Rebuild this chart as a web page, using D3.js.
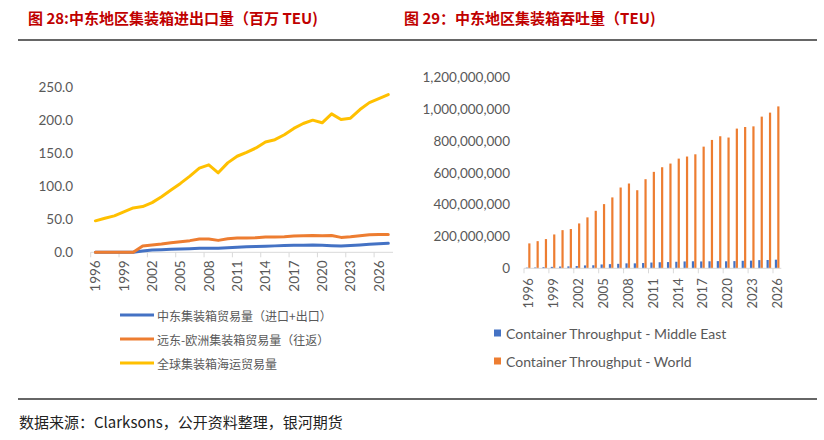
<!DOCTYPE html>
<html>
<head>
<meta charset="utf-8">
<script src="https://cdn.jsdelivr.net/npm/d3@7"></script>
<style>
body{margin:0;background:#fff;}
svg{display:block;font-family:Lato,"Noto Sans CJK SC",sans-serif;}
</style>
</head>
<body>
<svg id="chart" width="824" height="440"></svg>
<script>
"use strict";

var tradeYears = [1996,1997,1998,1999,2000,2001,2002,2003,2004,2005,2006,2007,2008,2009,2010,2011,
	2012,2013,2014,2015,2016,2017,2018,2019,2020,2021,2022,2023,2024,2025,2026,2027];
// million TEU
var meTrade = [0,0,0,0,0,2,3.5,4,4.5,5,5.5,6,6.3,6.3,7,7.7,8.2,8.7,9.2,9.7,10.2,10.6,10.8,11,10.6,10,9.5,10.3,11.2,12,12.8,13.5];
var feTrade = [0,0,0,0,0,9.5,11,12.5,14.5,16,17.6,20,20,18,20.5,21.5,21.5,22,23,23,23.5,24.5,25,25.5,25,25.5,22.5,23.5,25,26.5,27,27];
var globalTrade = [47.5,51.5,55,61,67,69,75,84,94,104,115,127,132,120,135,145,151,157.5,166.5,170,177.5,187,194.5,199.5,195.5,209,200.5,202.5,215.5,226,232,238];
var tradeTicks = [0,50,100,150,200,250];
var tradeNames = ["中东集装箱贸易量（进口+出口）","远东-欧洲集装箱贸易量（往返）","全球集装箱海运贸易量"];

var portYears = [1996,1997,1998,1999,2000,2001,2002,2003,2004,2005,2006,2007,2008,2009,2010,2011,
	2012,2013,2014,2015,2016,2017,2018,2019,2020,2021,2022,2023,2024,2025,2026];
// million TEU
var meThroughput = [4,5,7,9,11,12,14,18,19,24,26,28,31,31,33,36,38,39,41,43,44,43,44,45,44,45,47,48,51,52,54];
var worldThroughput = [156,170,183,212,239,246,281,319,360,402,444,506,531,489,558,604,633,656,687,700,714,762,804,827,819,875,885,889,950,975,1014];
var portTicks = [0,200,400,600,800,1000,1200];
var portNames = ["Container Throughput - Middle East","Container Throughput - World"];

var blue = "#4472c4", orange = "#ed7d31", gold = "#ffc000";
var grey = "#595959", axisGrey = "#d9d9d9";

var svg = d3.select("#chart");

// titles and rules
svg.append("text").attr("x", 28).attr("y", 17).attr("dominant-baseline", "central")
	.attr("fill", "#c00000").attr("font-size", 15).attr("font-weight", "bold")
	.attr("font-family", "'Noto Sans CJK SC',sans-serif")
	.text("图 28:中东地区集装箱进出口量（百万 TEU)");
svg.append("text").attr("x", 404).attr("y", 17).attr("dominant-baseline", "central")
	.attr("fill", "#c00000").attr("font-size", 15).attr("font-weight", "bold")
	.attr("font-family", "'Noto Sans CJK SC',sans-serif")
	.text("图 29：中东地区集装箱吞吐量（TEU)");
svg.append("line").attr("x1", 18).attr("x2", 817).attr("y1", 40).attr("y2", 40)
	.attr("stroke", "#333").attr("stroke-width", 1.3);
svg.append("line").attr("x1", 18).attr("x2", 817).attr("y1", 399).attr("y2", 399)
	.attr("stroke", "#333").attr("stroke-width", 1.3);
svg.append("text").attr("x", 19).attr("y", 421).attr("dominant-baseline", "central")
	.attr("fill", "#222").attr("font-size", 15)
	.attr("font-family", "'Noto Sans CJK SC',sans-serif")
	.text("数据来源：Clarksons，公开资料整理，银河期货");

// ---- left: trade lines ----
var x1 = d3.scaleBand().domain(tradeYears).range([90.7, 393]);
var y1 = d3.scaleLinear().domain([0, 250]).range([252.3, 86.7]);
var left = svg.append("g");

left.append("line").attr("x1", x1.range()[0]).attr("x2", x1.range()[1])
	.attr("y1", y1(0)).attr("y2", y1(0)).attr("stroke", axisGrey);

var xTicks1 = tradeYears.filter(function(d, i){ return i % 3 === 0; });
left.selectAll(".tk").data(xTicks1).enter().append("line")
	.attr("x1", function(d){ return x1(d); }).attr("x2", function(d){ return x1(d); })
	.attr("y1", y1(0)).attr("y2", y1(0) + 5).attr("stroke", axisGrey);
left.selectAll(".xl").data(xTicks1).enter().append("text")
	.attr("transform", function(d){
		return "translate(" + (x1(d) + x1.bandwidth() / 2) + "," + (y1(0) + 8) + ") rotate(-90)";
	})
	.attr("text-anchor", "end").attr("dominant-baseline", "central")
	.attr("font-size", 13.5).attr("fill", grey).text(function(d){ return d; });

left.selectAll(".yl").data(tradeTicks).enter().append("text")
	.attr("x", 73).attr("y", function(d){ return y1(d); })
	.attr("text-anchor", "end").attr("dominant-baseline", "central")
	.attr("font-size", 13.5).attr("fill", grey).text(d3.format(".1f"));

var line = d3.line()
	.x(function(d, i){ return x1(tradeYears[i]) + x1.bandwidth() / 2; })
	.y(function(d){ return y1(d); });

[[meTrade, blue], [feTrade, orange], [globalTrade, gold]].forEach(function(s){
	left.append("path").attr("d", line(s[0])).attr("fill", "none")
		.attr("stroke", s[1]).attr("stroke-width", 3)
		.attr("stroke-linejoin", "round").attr("stroke-linecap", "round");
});

var lg1 = left.selectAll(".lg").data(tradeNames).enter().append("g")
	.attr("transform", function(d, i){ return "translate(120," + [315, 339, 363][i] + ")"; });
lg1.append("line").attr("x1", 0).attr("x2", 34)
	.attr("stroke", function(d, i){ return [blue, orange, gold][i]; }).attr("stroke-width", 3);
lg1.append("text").attr("x", 37).attr("dominant-baseline", "central")
	.attr("font-size", 12).attr("fill", grey)
	.attr("font-family", "'Noto Sans CJK SC',sans-serif").text(function(d){ return d; });

// ---- right: throughput bars ----
var x2 = d3.scaleBand().domain(portYears).range([524, 781.3]);
var xs = d3.scaleBand().domain([0, 1]).range([0, x2.bandwidth()]).paddingInner(0.08).paddingOuter(0.77);
var y2 = d3.scaleLinear().domain([0, 1200]).range([268.3, 76.7]);
var right = svg.append("g");

right.selectAll(".yl").data(portTicks).enter().append("text")
	.attr("x", 510).attr("y", function(d){ return y2(d); })
	.attr("text-anchor", "end").attr("dominant-baseline", "central")
	.attr("font-size", 13.5).attr("fill", grey)
	.text(function(d){ return d3.format(",")(d * 1e6); });

[[meThroughput, blue], [worldThroughput, orange]].forEach(function(s, k){
	right.selectAll(".b" + k).data(s[0]).enter().append("rect")
		.attr("x", function(d, i){ return x2(portYears[i]) + xs(k); })
		.attr("width", xs.bandwidth())
		.attr("y", function(d){ return y2(d); })
		.attr("height", function(d){ return y2(0) - y2(d); })
		.attr("fill", s[1]);
});

right.append("line").attr("x1", x2.range()[0]).attr("x2", x2.range()[1])
	.attr("y1", y2(0)).attr("y2", y2(0)).attr("stroke", axisGrey);
var xTicks2 = portYears.filter(function(d, i){ return i % 3 === 0; });
right.selectAll(".tk").data(xTicks2).enter().append("line")
	.attr("x1", function(d){ return x2(d); }).attr("x2", function(d){ return x2(d); })
	.attr("y1", y2(0)).attr("y2", y2(0) + 5).attr("stroke", axisGrey);
right.selectAll(".xl").data(xTicks2).enter().append("text")
	.attr("transform", function(d){
		return "translate(" + (x2(d) + x2.bandwidth() / 2) + "," + (y2(0) + 10) + ") rotate(-90)";
	})
	.attr("text-anchor", "end").attr("dominant-baseline", "central")
	.attr("font-size", 13).attr("fill", grey).text(function(d){ return d; });

var lg2 = right.selectAll(".lg").data(portNames).enter().append("g")
	.attr("transform", function(d, i){ return "translate(494," + [333, 361][i] + ")"; });
lg2.append("rect").attr("x", 0).attr("y", -3.5).attr("width", 7).attr("height", 7)
	.attr("fill", function(d, i){ return [blue, orange][i]; });
lg2.append("text").attr("x", 12).attr("dominant-baseline", "central")
	.attr("font-size", 14).attr("fill", grey).text(function(d){ return d; });
</script>
</body>
</html>
